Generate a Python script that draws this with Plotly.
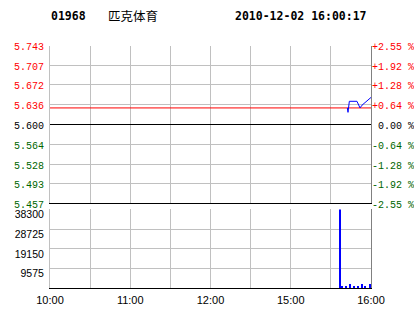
import plotly.graph_objects as go

# ---------------- data ----------------
stock_code = "01968"
stock_name = "匹克体育"
timestamp = "2010-12-02 16:00:17"
prev_close = 5.600

price_ticks = [5.457, 5.493, 5.528, 5.564, 5.600, 5.636, 5.672, 5.707, 5.743]
price_tick_labels = ["5.457", "5.493", "5.528", "5.564", "5.600", "5.636", "5.672", "5.707", "5.743"]
pct_tick_labels = ["-2.55 %", "-1.92 %", "-1.28 %", "-0.64 %", "\u00a00.00 %",
                   "+0.64 %", "+1.28 %", "+1.92 %", "+2.55 %"]

vol_ticks = [0, 9575, 19150, 28725, 38300]
vol_tick_labels = ["", "9575", "19150", "28725", "38300"]

time_tick_pos = [0, 30, 60, 90, 120, 150, 180, 210, 240]
time_tick_labels = ["10:00", "", "11:00", "", "12:00", "", "15:00", "", "16:00"]

price_minutes = [222.3, 222.8, 223.8, 229.5, 231.8, 233.3, 240]
price_values = [5.630, 5.622, 5.642, 5.642, 5.630, 5.635, 5.649]

avg_minutes = [0, 240]
avg_values = [5.630, 5.630]

vol_minutes = [217, 218.5, 221, 224.5, 227, 230, 233, 235.5, 239.5]
vol_values = [38300, 1000, 1000, 2000, 1000, 1000, 2000, 1000, 2000]

# ---------------- style ----------------
RED = "#ff0000"
GREEN = "#006600"
BLUE = "#0000ff"
GRID = "#c0c0c0"
EDGE = "#808080"
MONO = "Liberation Mono, DejaVu Sans Mono, monospace"
SANS = "Liberation Sans, Arial, sans-serif"


def colored(label, value, ref):
    if value > ref + 1e-9:
        return f"<span style='color:{RED}'>{label}</span>"
    if value < ref - 1e-9:
        return f"<span style='color:{GREEN}'>{label}</span>"
    return label


left_text = [colored(l, v, prev_close) for l, v in zip(price_tick_labels, price_ticks)]
right_text = [colored(l, v, prev_close) for l, v in zip(pct_tick_labels, price_ticks)]

pmin, pmax = price_ticks[0], price_ticks[-1]

fig = go.Figure()
fig.add_trace(go.Scatter(x=avg_minutes, y=avg_values, mode="lines",
                         line=dict(color=RED, width=1), xaxis="x", yaxis="y",
                         hoverinfo="skip"))
fig.add_trace(go.Scatter(x=price_minutes, y=price_values, mode="lines",
                         line=dict(color=BLUE, width=1), xaxis="x", yaxis="y"))
fig.add_trace(go.Bar(x=vol_minutes, y=vol_values, width=0.75,
                     marker=dict(color=BLUE, line=dict(width=0)),
                     xaxis="x2", yaxis="y2"))
# invisible traces so the right-hand overlay axes get drawn
fig.add_trace(go.Scatter(x=avg_minutes, y=avg_values, mode="lines", opacity=0,
                         line=dict(width=0), xaxis="x", yaxis="y3", hoverinfo="skip"))
fig.add_trace(go.Scatter(x=avg_minutes, y=[0, 0], mode="lines", opacity=0,
                         line=dict(width=0), xaxis="x2", yaxis="y4", hoverinfo="skip"))

# plot area spans y = 45 .. 289 px
price_dom = [0.35041, 0.99795]
vol_dom = [0.00205, 0.32582]

fig.update_layout(
    template="none",
    width=414, height=314,
    margin=dict(l=50, r=43, t=45, b=25, pad=0),
    paper_bgcolor="white", plot_bgcolor="white",
    showlegend=False,
    bargap=0,
    xaxis=dict(domain=[0, 1], anchor="y", range=[0, 240], automargin=False,
               tickmode="array", tickvals=time_tick_pos, ticktext=[""] * len(time_tick_pos),
               showticklabels=False, showgrid=True, gridcolor=GRID, gridwidth=1,
               showline=True, linecolor="black", linewidth=1, ticks="", zeroline=False),
    yaxis=dict(domain=price_dom, anchor="x", range=[pmin, pmax], automargin=False,
               tickmode="array", tickvals=price_ticks, ticktext=left_text,
               tickfont=dict(family=MONO, size=10, color="black"),
               showgrid=True, gridcolor=GRID, gridwidth=1,
               showline=True, linecolor=GRID, linewidth=1, ticks="",
               ticklabelstandoff=3, ticklabelshift=1, zeroline=False),
    yaxis3=dict(overlaying="y", side="right", anchor="x", range=[pmin, pmax], automargin=False,
                tickmode="array", tickvals=price_ticks, ticktext=right_text,
                tickfont=dict(family=MONO, size=10, color="black"),
                showgrid=False, showline=True, linecolor=EDGE, linewidth=1,
                ticks="", ticklabelstandoff=-2, ticklabelshift=1, zeroline=False),
    xaxis2=dict(domain=[0, 1], anchor="y2", range=[0, 240], automargin=False,
                tickmode="array", tickvals=time_tick_pos, ticktext=time_tick_labels,
                tickfont=dict(family=SANS, size=11, color="black"),
                showgrid=True, gridcolor=GRID, gridwidth=1,
                showline=True, linecolor="black", linewidth=1, ticks="",
                ticklabelstandoff=1, zeroline=False),
    yaxis2=dict(domain=vol_dom, anchor="x2", range=[0, vol_ticks[-1]], automargin=False,
                tickmode="array", tickvals=vol_ticks, ticktext=vol_tick_labels,
                tickfont=dict(family=SANS, size=10.5, color="black"),
                showgrid=True, gridcolor=GRID, gridwidth=1,
                showline=True, linecolor=GRID, linewidth=1, ticks="",
                ticklabelstandoff=3, ticklabelshift=5, zeroline=False),
    yaxis4=dict(overlaying="y2", side="right", anchor="x2", range=[0, vol_ticks[-1]],
                automargin=False, showticklabels=False, showgrid=False, showline=True,
                linecolor=EDGE, linewidth=1, ticks="", zeroline=False),
)

# previous close reference line
fig.add_shape(type="line", xref="x", yref="y", x0=0, x1=240,
              y0=prev_close, y1=prev_close, line=dict(color="black", width=1))

# header
fig.add_annotation(text=f"<b>{stock_code}</b>", xref="paper", yref="paper",
                   x=-0.003, y=1.119, xanchor="left", yanchor="middle", showarrow=False,
                   font=dict(family="DejaVu Sans Mono", size=11.5, color="black"))
fig.add_annotation(text=stock_name, xref="paper", yref="paper",
                   x=0.1745, y=1.119, xanchor="left", yanchor="middle", showarrow=False,
                   font=dict(family="Noto Sans CJK SC", size=12.5, color="black"))
fig.add_annotation(text=f"<b>{timestamp}</b>", xref="paper", yref="paper",
                   x=0.994, y=1.119, xanchor="right", yanchor="middle", showarrow=False,
                   font=dict(family="DejaVu Sans Mono", size=11.5, color="black"))

fig.write_html("out.html")
